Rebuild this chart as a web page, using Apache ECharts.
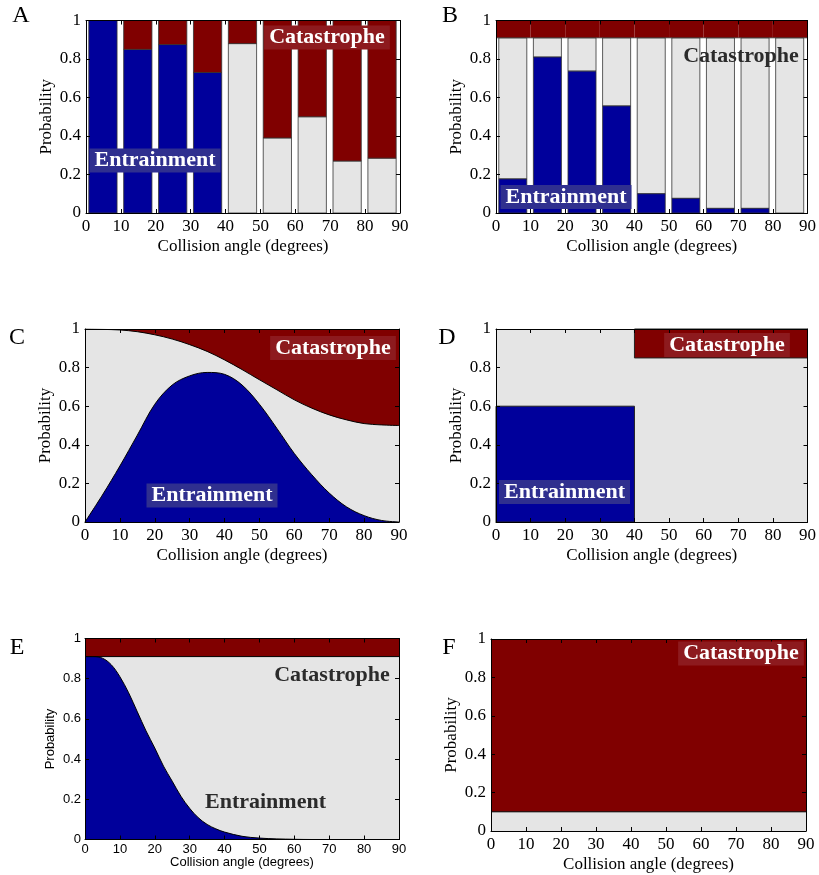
<!DOCTYPE html>
<html>
<head>
<meta charset="utf-8">
<script src="https://cdn.jsdelivr.net/npm/echarts@6/dist/echarts.min.js"></script>
<style>
html,body{margin:0;padding:0;background:#fff;}
#chart{width:819px;height:875px;}
</style>
</head>
<body>
<div id="chart"></div>
<script>
// ---------------- DATA ----------------
const xTicks = [0, 10, 20, 30, 40, 50, 60, 70, 80, 90];
const yTicks = [0, 0.2, 0.4, 0.6, 0.8, 1];
const binStart = [0, 10, 20, 30, 40, 50, 60, 70, 80];
const binWidth = 10;

// Panel A (bars)
const A_entrainment = [1.00, 0.85, 0.875, 0.73, 0, 0, 0, 0, 0];
const A_catastrophe = [0, 0.15, 0.125, 0.27, 0.12, 0.61, 0.50, 0.73, 0.715];

// Panel B (bars)
const B_entrainment = [0.177, 0.81, 0.737, 0.556, 0.10, 0.076, 0.024, 0.024, 0];
const B_catastrophe = [0.09, 0.09, 0.09, 0.09, 0.09, 0.09, 0.09, 0.09, 0.09];

// Panel C (curves)
const C_angle = [0, 5, 10, 15, 20, 25, 30, 35, 40, 45, 50, 55, 60, 65, 70, 75, 80, 85, 90];
const C_entrainment = [0, 0.14, 0.29, 0.45, 0.61, 0.71, 0.757, 0.775, 0.765, 0.71, 0.61, 0.485, 0.355, 0.245, 0.15, 0.078, 0.033, 0.008, 0];
const C_catastrophe = [0, 0.002, 0.005, 0.014, 0.03, 0.052, 0.081, 0.116, 0.16, 0.21, 0.263, 0.315, 0.367, 0.41, 0.445, 0.471, 0.49, 0.497, 0.5];

// Panel D (step)
const D_edges = [0, 40, 90];
const D_entrainment = [0.6, 0];
const D_catastrophe = [0, 0.15];

// Panel E (curve)
const E_angle = [0, 2.5, 5, 7.5, 10, 12.5, 15, 17.5, 20, 22.5, 25, 27.5, 30, 32.5, 35, 37.5, 40, 45, 50, 55, 60, 65, 70, 75, 80, 85, 90];
const E_entrainment = [0.91, 0.91, 0.902, 0.87, 0.81, 0.73, 0.635, 0.54, 0.455, 0.365, 0.29, 0.215, 0.155, 0.108, 0.075, 0.053, 0.037, 0.016, 0.007, 0.003, 0.001, 0, 0, 0, 0, 0, 0];
const E_catastrophe = [0.09, 0.09];
const E_cat_angle = [0, 90];

// Panel F (constant)
const F_angle = [0, 90];
const F_catastrophe = [0.9, 0.9];

const panelLetters = ['A', 'B', 'C', 'D', 'E', 'F'];

// ---------------- STYLE ----------------
const BLUE = '#00009b', RED = '#800000', GREY = '#e5e5e5';
const BLUE_BOX = '#2f2f8f', RED_BOX = '#8d1a1e';
const SERIF = 'Liberation Serif', SANS = 'Liberation Sans';

const grids = [
  {left: 86, top: 20.5, width: 314, height: 192.5},
  {left: 496, top: 20.5, width: 314, height: 192.5},
  {left: 85, top: 329, width: 314, height: 193},
  {left: 496, top: 329, width: 314, height: 193},
  {left: 85, top: 638.5, width: 314, height: 201},
  {left: 491, top: 639, width: 315, height: 192}
];
const gridBg = ['#fff', '#fff', GREY, GREY, GREY, GREY];

const xAxes = [], yAxes = [];
grids.forEach((g, i) => {
  const sans = (i === 4);
  const ff = sans ? SANS : SERIF;
  const fs = sans ? 13 : 17;
  const common = {
    min: 0, type: 'value', gridIndex: i, z: 10,
    splitLine: {show: false},
    axisLine: {show: true, onZero: false, lineStyle: {color: '#000', width: 1}},
    axisTick: {show: true, inside: true, length: 4, lineStyle: {color: '#000'}}
  };
  xAxes.push(Object.assign({}, common, {
    position: 'bottom', max: xTicks[xTicks.length - 1], interval: xTicks[1] - xTicks[0],
    name: 'Collision angle (degrees)', nameLocation: 'middle',
    nameGap: sans ? 13 : 25,
    nameTextStyle: {fontFamily: ff, fontSize: fs, color: '#000'},
    axisLabel: {fontFamily: ff, fontSize: fs, color: '#000', margin: sans ? 3 : 5}
  }));
  xAxes.push(Object.assign({}, common, {
    position: 'top', max: 90, interval: 10, axisLabel: {show: false}
  }));
  yAxes.push(Object.assign({}, common, {
    position: 'left', max: yTicks[yTicks.length - 1], interval: yTicks[1] - yTicks[0],
    name: 'Probability', nameLocation: 'middle',
    nameGap: sans ? 28 : 31,
    nameTextStyle: {fontFamily: ff, fontSize: fs, color: '#000'},
    axisLabel: {fontFamily: ff, fontSize: fs, color: '#000', margin: sans ? 4 : 5}
  }));
  yAxes.push(Object.assign({}, common, {
    position: 'right', max: 1, interval: 0.2, axisLabel: {show: false}
  }));
  g.show = true;
  g.backgroundColor = gridBg[i];
  g.borderWidth = 0;
});

function barRenderer(fullWidthCat) {
  const gL = 0.8, gR = 1.1;
  return function (params, api) {
    const x0 = api.value(0), ent = api.value(1), cat = api.value(2);
    const xl = api.coord([x0 + gL, 0])[0];
    const xr = api.coord([x0 + binWidth - gR, 0])[0];
    const xfl = api.coord([x0, 0])[0];
    const xfr = api.coord([x0 + binWidth, 0])[0];
    const y = v => api.coord([x0, v])[1];
    const children = [];
    const st = {stroke: '#333', lineWidth: 0.8};
    if (1 - cat - ent > 0) {
      children.push({type: 'rect', shape: {x: xl, y: y(1 - cat), width: xr - xl, height: y(ent) - y(1 - cat)},
        style: Object.assign({fill: GREY}, st)});
    }
    if (ent > 0) {
      children.push({type: 'rect', shape: {x: xl, y: y(ent), width: xr - xl, height: y(0) - y(ent)},
        style: Object.assign({fill: BLUE}, st)});
    }
    if (cat > 0) {
      if (fullWidthCat) {
        children.push({type: 'rect', shape: {x: xfl, y: y(1), width: xfr - xfl, height: y(1 - cat) - y(1)},
          style: {fill: RED, stroke: null}});
        children.push({type: 'line', shape: {x1: xfl, y1: y(1 - cat), x2: xfr, y2: y(1 - cat)},
          style: {stroke: '#333', lineWidth: 0.8}});
      } else {
        children.push({type: 'rect', shape: {x: xl, y: y(1), width: xr - xl, height: y(1 - cat) - y(1)},
          style: Object.assign({fill: RED}, st)});
      }
    }
    return {type: 'group', children: children};
  };
}

function stepRenderer(params, api) {
  const x0 = api.value(0), x1 = api.value(1), ent = api.value(2), cat = api.value(3);
  const p = (x, v) => api.coord([x, v]);
  const children = [];
  if (ent > 0) {
    const a = p(x0, ent), b = p(x1, 0);
    children.push({type: 'rect', shape: {x: a[0], y: a[1], width: b[0] - a[0], height: b[1] - a[1]},
      style: {fill: BLUE, stroke: '#222', lineWidth: 1}});
  }
  if (cat > 0) {
    const a = p(x0, 1), b = p(x1, 1 - cat);
    children.push({type: 'rect', shape: {x: a[0], y: a[1], width: b[0] - a[0], height: b[1] - a[1]},
      style: {fill: RED, stroke: '#222', lineWidth: 1}});
  }
  return {type: 'group', children: children};
}

function areaLine(idx, data, color, origin) {
  return {
    type: 'line', xAxisIndex: idx * 2, yAxisIndex: idx * 2, data: data,
    symbol: 'none', smooth: 0.35, z: 3,
    lineStyle: {color: '#000', width: 1},
    areaStyle: {color: color, opacity: 1, origin: origin}
  };
}

const series = [
  {type: 'custom', xAxisIndex: 0, yAxisIndex: 0, renderItem: barRenderer(false),
   encode: {x: 0, y: [1, 2]},
   data: binStart.map((b, k) => [b, A_entrainment[k], A_catastrophe[k]])},
  {type: 'custom', xAxisIndex: 2, yAxisIndex: 2, renderItem: barRenderer(true),
   encode: {x: 0, y: [1, 2]},
   data: binStart.map((b, k) => [b, B_entrainment[k], B_catastrophe[k]])},
  areaLine(2, C_angle.map((a, k) => [a, 1 - C_catastrophe[k]]), RED, 'end'),
  areaLine(2, C_angle.map((a, k) => [a, C_entrainment[k]]), BLUE, 'start'),
  {type: 'custom', xAxisIndex: 6, yAxisIndex: 6, renderItem: stepRenderer,
   encode: {x: [0, 1], y: [2, 3]},
   data: D_entrainment.map((e, k) => [D_edges[k], D_edges[k + 1], e, D_catastrophe[k]])},
  Object.assign(areaLine(4, E_cat_angle.map((a, k) => [a, 1 - E_catastrophe[k]]), RED, 'end'), {smooth: false}),
  areaLine(4, E_angle.map((a, k) => [a, E_entrainment[k]]), BLUE, 'start'),
  Object.assign(areaLine(5, F_angle.map((a, k) => [a, 1 - F_catastrophe[k]]), RED, 'end'), {smooth: false})
];

function label(text, cx, cy, boxColor, dark) {
  const style = {
    text: text, x: cx, y: cy, align: 'center', verticalAlign: 'middle',
    font: 'bold 22px "Liberation Serif"', fill: dark ? '#2b2b2b' : '#fff'
  };
  if (boxColor) { style.backgroundColor = boxColor; style.padding = [1, 5, 1, 5]; }
  return {type: 'text', z: 20, style: style};
}
const letterPos = [[21, 16], [450, 16], [17, 338], [447, 338], [17, 648], [449, 648]];
const graphic = [
  label('Entrainment', 155, 160.5, BLUE_BOX),
  label('Catastrophe', 327, 37.5, RED_BOX),
  label('Entrainment', 566, 197, BLUE_BOX),
  label('Catastrophe', 741, 56, null, true),
  label('Catastrophe', 333, 348, RED_BOX),
  label('Entrainment', 212, 495.5, BLUE_BOX),
  label('Catastrophe', 727, 345, RED_BOX),
  label('Entrainment', 564.5, 492, BLUE_BOX),
  label('Catastrophe', 332, 675, null, true),
  label('Entrainment', 265.5, 802, null, true),
  label('Catastrophe', 741, 653.5, RED_BOX)
].concat(panelLetters.map((L, i) => ({
  type: 'text', z: 20,
  style: {text: L, x: letterPos[i][0], y: letterPos[i][1], align: 'center', verticalAlign: 'middle',
    font: '24px "Liberation Serif"', fill: '#000'}
})));

const chart = echarts.init(document.getElementById('chart'), null, {renderer: 'canvas'});
chart.setOption({
  animation: false,
  backgroundColor: '#fff',
  grid: grids,
  xAxis: xAxes,
  yAxis: yAxes,
  series: series,
  graphic: graphic
});
</script>
</body>
</html>
